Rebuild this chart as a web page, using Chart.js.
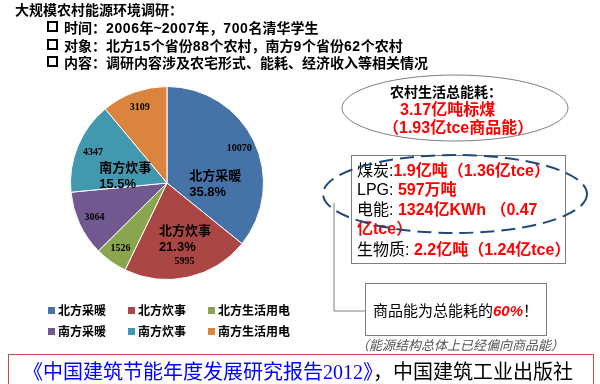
<!DOCTYPE html>
<html>
<head>
<meta charset="utf-8">
<script src="https://cdn.jsdelivr.net/npm/chart.js@4.4.1/dist/chart.umd.min.js"></script>
<style>
  html, body { margin: 0; padding: 0; background: #fff; }
  body { width: 600px; height: 384px; position: relative; overflow: hidden;
         font-family: "Liberation Sans", "Noto Sans CJK SC", sans-serif; }
  #pie { position: absolute; left: 0; top: 0; }
  .t { position: absolute; white-space: nowrap; line-height: 1; }
  .b { font-weight: bold; }
  .red { color: #ff0000; font-weight: bold; }
  .box { position: absolute; border: 1px solid #7f7f7f; background: #fff; }
  .chk { display: inline-block; width: 7px; height: 7px; border: 2px solid #000; margin-right: 6px; vertical-align: 1px; }
  .num { letter-spacing: 0.6px; }
  #legend { position: absolute; left: 48px; top: 301px; display: grid;
            grid-template-columns: 80px 80px 100px; row-gap: 4px;
            font-family: "Noto Sans CJK SC", sans-serif; font-weight: bold; font-size: 12px; }
  #legend span.sw { display: inline-block; width: 7px; height: 7px; margin-right: 3px; vertical-align: 1px; }
  svg { position: absolute; left: 0; top: 0; }
</style>
</head>
<body>
<canvas id="pie" width="600" height="384"></canvas>

<svg width="600" height="384">
  <ellipse cx="455" cy="108" rx="113" ry="33" fill="#fff" stroke="#7f7f7f" stroke-width="1"/>
  <polyline points="334,203 334,311 365,311" fill="none" stroke="#7f7f7f" stroke-width="1"/>
</svg>

<div class="t b" style="left:15px;top:3px;font-size:14px;">大规模农村能源环境调研：</div>
<div class="t b" style="left:47px;top:21px;font-size:14px;"><span class="chk"></span>时间：<span class="num">2006</span>年~<span class="num">2007</span>年，<span class="num">700</span>名清华学生</div>
<div class="t b" style="left:47px;top:39px;font-size:14px;"><span class="chk"></span>对象：北方<span class="num">15</span>个省份<span class="num">88</span>个农村，南方<span class="num">9</span>个省份<span class="num">62</span>个农村</div>
<div class="t b" style="left:47px;top:56px;font-size:14px;"><span class="chk"></span>内容：调研内容涉及农宅形式、能耗、经济收入等相关情况</div>

<div class="t b" style="left:390px;top:85px;font-size:14px;">农村生活总能耗：</div>
<div class="t red" style="left:400px;top:102px;font-size:16px;">3.17亿吨标煤</div>
<div class="t red" style="left:383px;top:120px;font-size:16px;">（1.93亿tce商品能）</div>

<div class="box" style="left:351px;top:155px;width:213px;height:107px;"></div>
<div class="t" style="left:357px;top:163px;font-size:16px;">煤炭:<span class="red">1.9亿吨（1.36亿tce）</span></div>
<div class="t" style="left:357px;top:182px;font-size:16px;">LPG: <span class="red">597万吨</span></div>
<div class="t" style="left:357px;top:202px;font-size:16px;">电能: <span class="red">1324亿KWh （0.47</span></div>
<div class="t" style="left:357px;top:221px;font-size:16px;"><span class="red">亿tce）</span></div>
<div class="t" style="left:357px;top:242px;font-size:16px;">生物质: <span class="red">2.2亿吨（1.24亿tce）</span></div>

<svg width="600" height="384">
  <ellipse cx="455" cy="194" rx="132" ry="39" fill="none" stroke="#1f497d" stroke-width="2" stroke-dasharray="14 7"/>
</svg>

<div class="box" style="left:365px;top:283px;width:180px;height:51px;"></div>
<div class="t" style="left:373px;top:303px;font-size:15px;">商品能为总能耗的<span class="red" style="font-style:italic;">60%</span>！</div>
<div class="t" style="left:356px;top:339px;font-size:13px;color:#555;font-style:italic;">（能源结构总体上已经偏向商品能）</div>

<div class="box" style="left:8px;top:354px;width:584px;height:40px;border:1.5px solid #c0504d;"></div>
<div class="t" style="left:23px;top:361px;font-size:20px;font-family:'Noto Sans CJK SC',sans-serif;"><span style="color:#0000ff;">《中国建筑节能年度发展研究报告<span style="font-family:'Liberation Serif',serif;">2012</span>》</span>，中国建筑工业出版社</div>

<div id="legend"></div>

<script>
const categories = ['北方采暖', '北方炊事', '北方生活用电', '南方采暖', '南方炊事', '南方生活用电'];
const values = [10070, 5995, 1526, 3064, 4347, 3109];
const colors = ['#4572a7', '#aa4643', '#89a54e', '#71588f', '#4198af', '#db843d'];
// which slices carry the big name + percent label, with hand-placed polar offsets
const bigLabels = [
  { index: 0, angle: 91, r: 0.50 },
  { index: 1, angle: 162, r: 0.60 },
  { index: 4, angle: 280, r: 0.44 }
];

const total = values.reduce((s, v) => s + v, 0);

const sliceLabels = {
  id: 'sliceLabels',
  afterDatasetsDraw(chart) {
    const ctx = chart.ctx;
    const arcs = chart.getDatasetMeta(0).data;
    ctx.save();
    ctx.fillStyle = '#000';
    ctx.textAlign = 'center';
    ctx.textBaseline = 'middle';
    ctx.font = 'bold 10px "Liberation Serif", serif';
    arcs.forEach((arc, i) => {
      const p = arc.getProps(['x', 'y', 'startAngle', 'endAngle', 'outerRadius'], true);
      const mid = (p.startAngle + p.endAngle) / 2;
      const r = p.outerRadius * 0.83;
      ctx.fillText(values[i], p.x + Math.cos(mid) * r, p.y + Math.sin(mid) * r);
    });

    ctx.font = 'bold 13px "Liberation Sans", "Noto Sans CJK SC", sans-serif';
    ctx.textAlign = 'left';
    bigLabels.forEach(b => {
      const p = arcs[b.index].getProps(['x', 'y', 'outerRadius'], true);
      const a = (b.angle - 90) * Math.PI / 180;
      const cx = p.x + Math.cos(a) * p.outerRadius * b.r;
      const cy = p.y + Math.sin(a) * p.outerRadius * b.r;
      const name = categories[b.index].slice(0, 4);
      const pct = (values[b.index] / total * 100).toFixed(1) + '%';
      const w = Math.max(ctx.measureText(name).width, ctx.measureText(pct).width);
      ctx.fillText(name, cx - w / 2, cy - 7);
      ctx.fillText(pct, cx - w / 2, cy + 9);
    });
    ctx.restore();
  }
};

const chart = new Chart(document.getElementById('pie'), {
  type: 'pie',
  data: {
    labels: categories,
    datasets: [{
      data: values,
      backgroundColor: colors,
      borderColor: '#ffffff',
      borderWidth: 1
    }]
  },
  options: {
    responsive: false,
    animation: false,
    layout: { padding: { left: 70, right: 336, top: 86, bottom: 104 } },
    plugins: { legend: { display: false }, tooltip: { enabled: false } }
  },
  plugins: [sliceLabels]
});

// HTML legend built from the chart's own data
document.getElementById('legend').innerHTML = chart.data.labels.map((label, i) =>
  `<div><span class="sw" style="background:${chart.data.datasets[0].backgroundColor[i]}"></span>${label}</div>`
).join('');
</script>
</body>
</html>
